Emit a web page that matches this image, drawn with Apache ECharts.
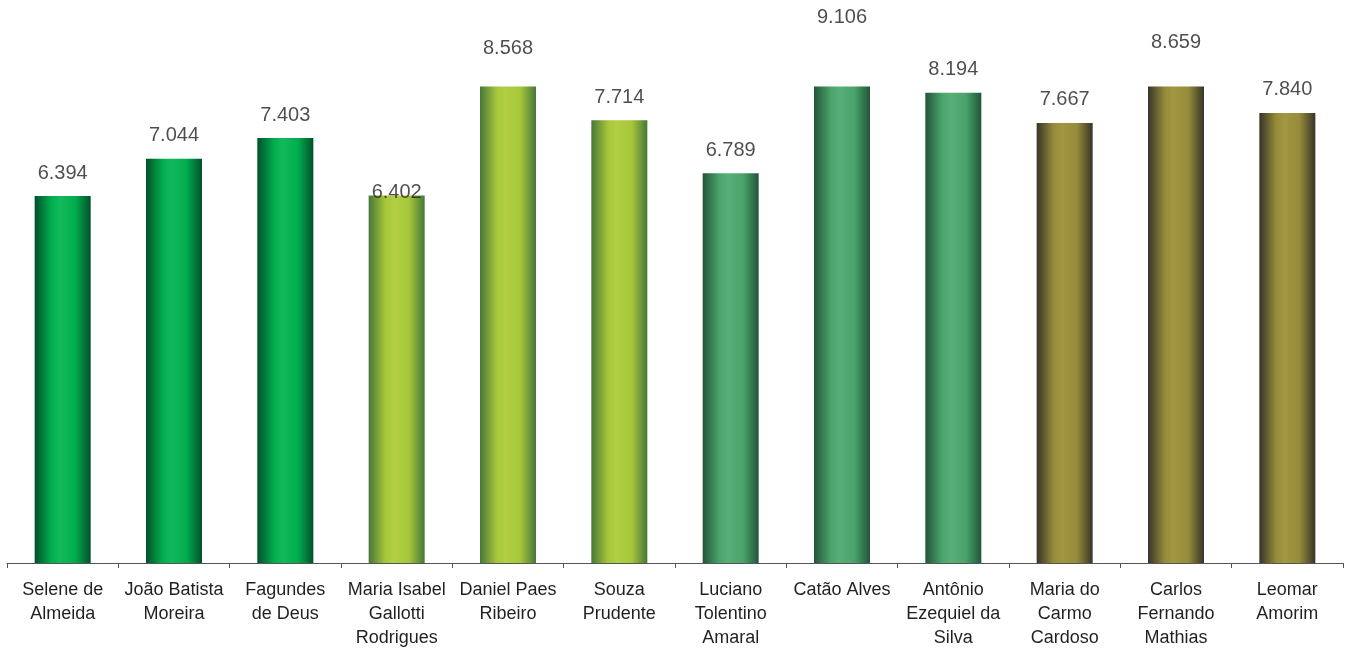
<!DOCTYPE html>
<html>
<head>
<meta charset="utf-8">
<script src="https://cdn.jsdelivr.net/npm/echarts@6/dist/echarts.min.js"></script>
<style>
html,body{margin:0;padding:0;background:#fff;}
#chart{width:1352px;height:651px;}
</style>
</head>
<body>
<div id="chart"></div>
<script>
const categories = [
  'Selene de\nAlmeida', 'João Batista\nMoreira', 'Fagundes\nde Deus',
  'Maria Isabel\nGallotti\nRodrigues', 'Daniel Paes\nRibeiro', 'Souza\nPrudente',
  'Luciano\nTolentino\nAmaral', 'Catão Alves', 'Antônio\nEzequiel da\nSilva',
  'Maria do\nCarmo\nCardoso', 'Carlos\nFernando\nMathias', 'Leomar\nAmorim'
];
const values = [6.394, 7.044, 7.403, 6.402, 8.568, 7.714, 6.789, 9.106, 8.194, 7.667, 8.659, 7.840];
const axisMax = 8.3;

const palettes = [
  ['#00502b', '#00ae4e', '#12b95a'],
  ['#467739', '#a7c73a', '#b2ce44'],
  ['#235538', '#49a46b', '#58af77'],
  ['#37342a', '#958b3a', '#a19741']
];
function grad(p) {
  return new echarts.graphic.LinearGradient(0, 0, 1, 0, [
    {offset: 0, color: p[0]},
    {offset: 0.3, color: p[1]},
    {offset: 0.45, color: p[2]},
    {offset: 0.72, color: p[1]},
    {offset: 1, color: p[0]}
  ]);
}
const FONT = 'Liberation Sans, Arial, sans-serif';
// label of the 4th bar sits lower, overlapping the bar top, as in the original
const labelDistance = i => (i === 3 ? -7 : 13);

const chart = echarts.init(document.getElementById('chart'));
chart.setOption({
  animation: false,
  grid: {left: 7, right: 9, top: 563 - axisMax * 57.4, bottom: 88, containLabel: false},
  xAxis: {
    type: 'category',
    data: categories,
    axisLine: {lineStyle: {color: '#555', width: 1}},
    axisTick: {show: true, length: 5, lineStyle: {color: '#555'}},
    axisLabel: {
      interval: 0, margin: 15, color: '#231f20', fontSize: 18,
      lineHeight: 24, fontFamily: FONT, align: 'center'
    }
  },
  yAxis: {type: 'value', min: 0, max: axisMax, show: false, splitLine: {show: false}},
  series: [
    {
      type: 'bar',
      barWidth: 56,
      clip: true,
      data: values.map((v, i) => ({value: v, itemStyle: {color: grad(palettes[Math.floor(i / 3)])}})),
      silent: true
    },
    {
      type: 'scatter',
      symbolSize: 0,
      clip: false,
      silent: true,
      z: 5,
      data: values.map((v, i) => ({value: v, label: {distance: labelDistance(i)}})),
      label: {
        show: true, position: 'top', distance: 13,
        fontSize: 20, color: '#231f20', fontFamily: FONT,
        formatter: p => p.value.toFixed(3)
      }
    }
  ]
});
</script>
</body>
</html>
